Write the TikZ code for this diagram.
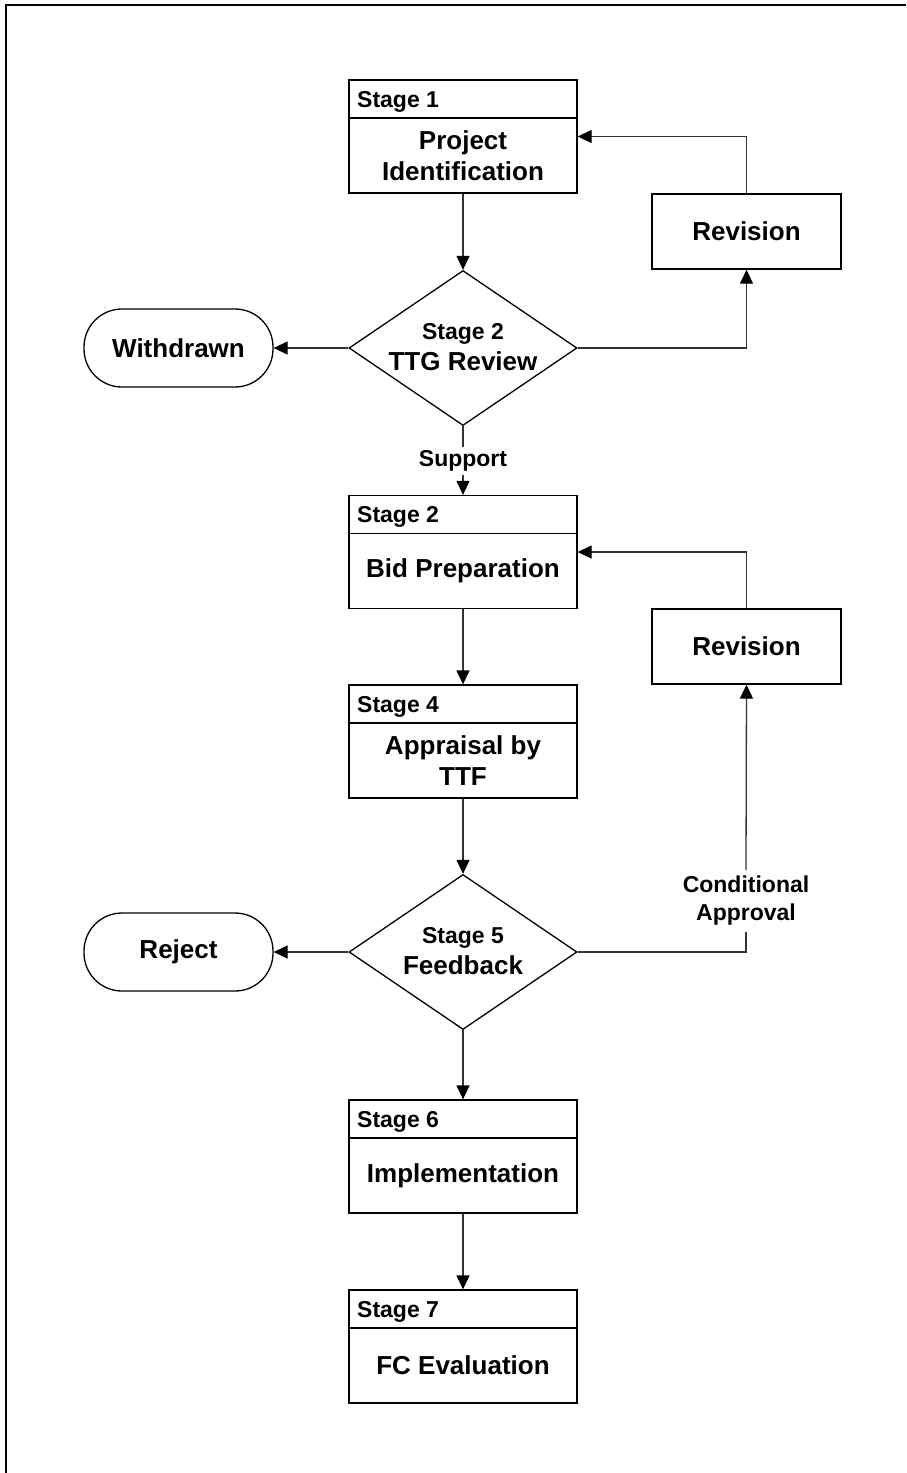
\documentclass[tikz,border=0pt]{standalone}
\usepackage{fontspec}
\setmainfont{Liberation Sans}
\usetikzlibrary{shapes.geometric,arrows.meta}
\newcommand\bigf{\fontsize{26}{31}\selectfont\bfseries}
\newcommand\smf{\fontsize{23}{28}\selectfont\bfseries}
\tikzset{
  box/.style={draw=black, line width=1.3pt, minimum width=228pt, minimum height=113pt, inner sep=0pt},
  divline/.style={draw=black, line width=1.3pt},
  hdr/.style={font=\smf, inner sep=0pt},
  bodytxt/.style={font=\bigf, align=center, inner sep=0pt},
  rev/.style={draw=black, line width=1.3pt, minimum width=189pt, minimum height=75pt, font=\bigf},
  term/.style={draw=black, line width=1.3pt, rounded corners=38pt, minimum width=189pt, minimum height=78pt, font=\bigf},
  dia/.style={draw=black, diamond, line width=1.3pt, minimum width=228pt, minimum height=155pt, inner sep=0pt},
  dtext/.style={font=\bigf, align=center, inner sep=0pt},
  conn/.style={draw=black!80, line width=1.3pt},
  arr/.style={conn, -{Triangle[length=14pt,width=13pt,color=black]}},
  lbl/.style={font=\smf, align=center, inner sep=3pt},
  frame/.style={draw=black, line width=2pt}
}
\newcommand\mkstage[5]{%
  \node[box] (#1) at (#2,#3+56.5) {};
  \draw[divline] (349,#3+38) -- (577,#3+38);
  \node[hdr, anchor=base west] (#1h) at (357,#3+27) {#4};
  \node[bodytxt] (#1b) at (#2,#3+75.5) {#5};
}
\begin{document}
\begin{tikzpicture}[x=1pt,y=-1pt]
\useasboundingbox (0,0) rectangle (906,1473);
\draw[frame] (6,1473) -- (6,5) -- (906,5);

\mkstage{s1}{463}{80}{Stage 1}{Project\\Identification}
\node[rev] (r1) at (746.5,231.5) {Revision};
\node[dia] (d1) at (463,348) {};
\node[dtext] (d1t) at (463,347) {{\smf Stage 2}\\TTG Review};
\node[term] (w) at (178.5,348) {Withdrawn};
\node[lbl] (sup) at (463,461) {Support};
\mkstage{s2}{463}{495.5}{Stage 2}{Bid Preparation}
\node[rev] (r2) at (746.5,646.5) {Revision};
\mkstage{s4}{463}{685}{Stage 4}{Appraisal by\\TTF}
\node[dia] (d2) at (463,952) {};
\node[dtext] (d2t) at (463,951) {{\smf Stage 5}\\Feedback};
\node[term] (rj) at (178.5,952) {Reject};
\node[lbl, inner ysep=6pt] (ca) at (746,901) {Conditional\\Approval};
\mkstage{s6}{463}{1100}{Stage 6}{Implementation}
\mkstage{s7}{463}{1290}{Stage 7}{FC Evaluation}

\draw[arr] (s1.south) -- (d1.north);
\draw[arr] (d1.west) -- (w.east);
\draw[arr] (d1.east) -| (r1.south);
\draw[arr] (r1.north) |- (s1.east);
\draw[conn] (d1.south) -- (sup.north);
\draw[arr] (sup.south) -- (s2.north);
\draw[arr] (s2.south) -- (s4.north);
\draw[arr] (r2.north) |- (s2.east);
\draw[arr] (s4.south) -- (d2.north);
\draw[arr] (d2.west) -- (rj.east);
\draw[conn] (d2.east) -| (ca.south);
\draw[arr] (ca.north) -- (r2.south);
\draw[arr] (d2.south) -- (s6.north);
\draw[arr] (s6.south) -- (s7.north);
\end{tikzpicture}
\end{document}
